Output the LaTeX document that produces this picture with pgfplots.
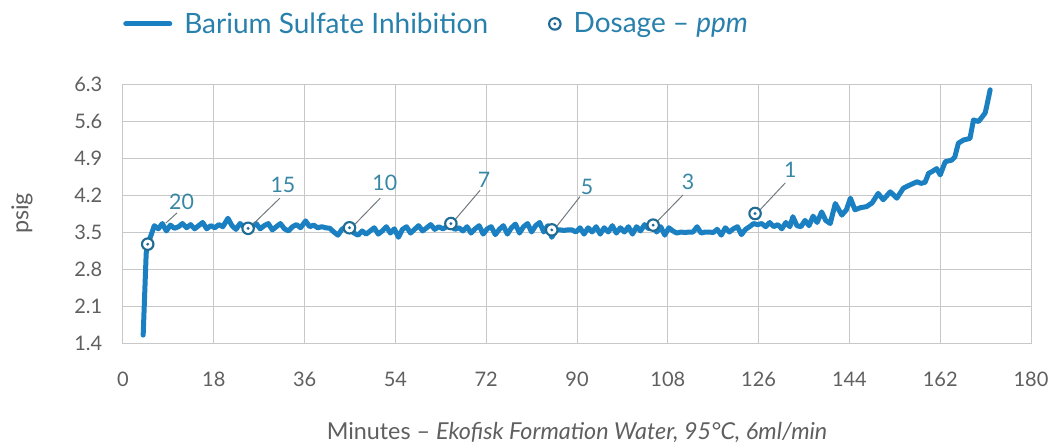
\documentclass[border=0pt]{standalone}
\usepackage{pgfplots}
\pgfplotsset{compat=1.18}
\usepackage{fontspec}
\setmainfont{Lato}
\definecolor{lineblue}{RGB}{27,128,194}
\definecolor{markblue}{RGB}{32,108,148}
\definecolor{legtext}{RGB}{40,128,172}
\definecolor{anntext}{RGB}{55,135,165}
\definecolor{leadgray}{RGB}{112,122,128}
\definecolor{tickgray}{RGB}{95,95,95}
\definecolor{gridgray}{RGB}{200,200,200}
\pgfdeclareplotmark{dotcirc}{%
  \pgfpathcircle{\pgfpointorigin}{\pgfplotmarksize}%
  \pgfsetfillcolor{white}%
  \pgfusepath{fill,stroke}%
  \pgfpathcircle{\pgfpointorigin}{1.2pt}%
  \pgfsetfillcolor{markblue}%
  \pgfusepath{fill}%
}
\begin{document}
\begin{tikzpicture}
\path[use as bounding box] (-92.25pt,-77.25pt) rectangle (696.75pt,257.25pt);
\begin{axis}[
  at={(0pt,0pt)}, anchor=south west,
  scale only axis, width=681pt, height=194.25pt,
  xmin=0, xmax=180, ymin=1.4, ymax=6.3,
  xtick={0,18,...,180},
  ytick={1.4,2.1,2.8,3.5,4.2,4.9,5.6,6.3},
  yticklabels={1.4,2.1,2.8,3.5,4.2,4.9,5.6,6.3},
  grid=major, major grid style={gridgray, line width=0.75pt},
  axis line style={gridgray, line width=0.75pt},
  major tick length=0pt,
  /pgf/number format/assume math mode=true,
  tick label style={font=\fontsize{15}{17}\selectfont, text=tickgray},
  xticklabel style={yshift=-18pt},
  yticklabel style={xshift=-12pt},
  xlabel={Minutes -- \textit{Ekofisk Formation Water, 95°C, 6ml/min}},
  ylabel={psig},
  label style={font=\fontsize{17.5}{20}\selectfont, text=tickgray},
  xlabel style={at={(axis description cs:0.5,-0.3436)}, anchor=center},
  ylabel style={at={(axis description cs:-0.1112,0.5)}, anchor=center},
  legend columns=2,
  legend style={at={(axis description cs:0,1.232)}, anchor=west,
    draw=none, fill=none, inner sep=0pt,
    font=\fontsize{21}{24}\selectfont, text=legtext,
    nodes={inner sep=0pt},
    /tikz/every odd column/.append style={column sep=9pt},
    /tikz/every even column/.append style={column sep=45pt}},
]
\addplot[lineblue, line width=3.75pt, line join=round, line cap=round,
  legend image code/.code={\draw[lineblue, line width=3.75pt] (0pt,0pt) -- (33pt,0pt);}]
coordinates {
(4,1.55) (4.6,3.1) (4.9,3.27) (5.6,3.45) (6.2,3.62) (7,3.56) (7.8,3.66) (8.6,3.52)
(9.4,3.63) (10.2,3.57) (11,3.6) (11.8,3.66) (12.6,3.58) (13.4,3.64) (14.2,3.56)
(15,3.62) (15.8,3.68) (16.6,3.56) (17.4,3.62) (18.2,3.58) (19,3.64) (19.8,3.6)
(20.8,3.76) (21.6,3.62) (22.4,3.55) (23.2,3.66) (24,3.6) (24.8,3.58) (25.6,3.6)
(26.4,3.66) (27.2,3.56) (28,3.62) (28.8,3.66) (29.6,3.54) (30.4,3.6) (31.2,3.66)
(32,3.56) (32.8,3.52) (33.6,3.6) (34.4,3.64) (35.2,3.58) (36.2,3.71) (37,3.6)
(37.8,3.63) (38.6,3.58) (39.4,3.6) (40.2,3.58) (41,3.57) (41.8,3.5) (42.6,3.44)
(43.4,3.55) (44.2,3.6) (45,3.56) (45.8,3.48) (46.6,3.44) (47.4,3.52) (48.2,3.46)
(49,3.52) (49.8,3.58) (50.6,3.46) (51.4,3.52) (52.2,3.6) (53,3.48) (53.8,3.56)
(54.6,3.4) (55.4,3.55) (56.2,3.6) (57,3.48) (57.8,3.55) (58.6,3.62) (59.4,3.52)
(60.2,3.58) (61,3.64) (61.8,3.55) (62.6,3.6) (63.4,3.56) (64.2,3.6) (65,3.62)
(65.8,3.55) (66.6,3.58) (67.4,3.52) (68.2,3.6) (69,3.48) (69.8,3.56) (70.6,3.62)
(71.4,3.46) (72.2,3.56) (73,3.6) (73.8,3.45) (74.6,3.55) (75.4,3.62) (76.2,3.46)
(77,3.58) (77.8,3.65) (78.6,3.48) (79.4,3.6) (80.2,3.66) (81,3.5) (81.8,3.62)
(82.6,3.68) (83.4,3.5) (84.2,3.62) (85,3.4) (85.8,3.54) (86.6,3.54) (87.4,3.53)
(88.2,3.54) (89,3.54) (89.8,3.5) (90.6,3.58) (91.4,3.46) (92.2,3.58) (93,3.5)
(93.8,3.6) (94.6,3.46) (95.4,3.58) (96.2,3.5) (97,3.62) (97.8,3.48) (98.6,3.58)
(99.4,3.5) (100.2,3.6) (101,3.46) (101.8,3.6) (102.6,3.52) (103.4,3.64) (104.2,3.56)
(105,3.6) (105.8,3.5) (106.6,3.6) (107.4,3.44) (108.2,3.58) (109,3.52) (109.8,3.48)
(110.6,3.5) (111.4,3.49) (112.2,3.5) (113,3.5) (113.8,3.6) (114.6,3.48) (115.4,3.5)
(116.2,3.5) (117,3.49) (117.8,3.55) (118.6,3.44) (119.4,3.58) (120.2,3.5) (121,3.56)
(121.8,3.6) (122.6,3.45) (123.4,3.55) (124.2,3.6) (125,3.66) (125.8,3.64) (126.6,3.66)
(127.4,3.6) (128.2,3.68) (129,3.6) (129.8,3.64) (130.6,3.56) (131.4,3.68) (132.2,3.6)
(132.8,3.79) (133.6,3.62) (134.4,3.6) (135.2,3.72) (136,3.62) (136.8,3.8) (137.6,3.68)
(138.5,3.88) (139.3,3.72) (140.2,3.66) (141.2,4.04) (142.5,3.82) (143.4,3.92) (144.2,4.14)
(145.1,3.92) (146.2,3.96) (147.4,3.98) (148.5,4.05) (149.7,4.23) (150.7,4.11) (152.1,4.26)
(153.4,4.14) (154.7,4.33) (156,4.39) (157.4,4.45) (158.2,4.42) (159,4.44) (159.7,4.61)
(160.5,4.65) (161.3,4.70) (162,4.58) (163,4.83) (164.3,4.86) (164.9,4.92) (165.6,5.18)
(166.6,5.24) (167.9,5.27) (168.6,5.62) (169.6,5.59) (170.9,5.75) (171.2,5.87) (171.9,6.19)
};
\addlegendentry{Barium Sulfate Inhibition}
% leader lines
\draw[leadgray, line width=0.75pt] (axis cs:8.5,3.67) -- (axis cs:10.7,3.86);
\draw[leadgray, line width=0.75pt] (axis cs:25.8,3.65) -- (axis cs:31.1,4.14);
\draw[leadgray, line width=0.75pt] (axis cs:46.0,3.65) -- (axis cs:51.0,4.14);
\draw[leadgray, line width=0.75pt] (axis cs:65.8,3.73) -- (axis cs:70.8,4.29);
\draw[leadgray, line width=0.75pt] (axis cs:86.0,3.61) -- (axis cs:90.6,4.17);
\draw[leadgray, line width=0.75pt] (axis cs:105.8,3.69) -- (axis cs:111.0,4.20);
\draw[leadgray, line width=0.75pt] (axis cs:125.9,3.88) -- (axis cs:131.3,4.43);
\addplot[only marks, mark=dotcirc, mark size=4.3pt,
  mark options={draw=markblue, line width=1.6pt},
  legend image code/.code={\draw[markblue, line width=1.6pt] plot[mark=dotcirc, mark size=4.3pt] coordinates {(5.5pt,0pt)};}]
coordinates {(4.9,3.27) (24.8,3.57) (44.9,3.58) (65.0,3.66) (85.0,3.54) (105.1,3.63) (125.3,3.85)};
\addlegendentry{Dosage -- \textit{ppm}}
\begin{scope}[every node/.style={text=anntext, font=\fontsize{16}{18}\selectfont}]
\node at (axis cs:11.6,4.07) {20};
\node at (axis cs:31.7,4.39) {15};
\node at (axis cs:51.9,4.43) {10};
\node at (axis cs:71.6,4.48) {7};
\node at (axis cs:92.0,4.36) {5};
\node at (axis cs:112.0,4.45) {3};
\node at (axis cs:132.3,4.67) {1};
\end{scope}
\end{axis}
\end{tikzpicture}
\end{document}
